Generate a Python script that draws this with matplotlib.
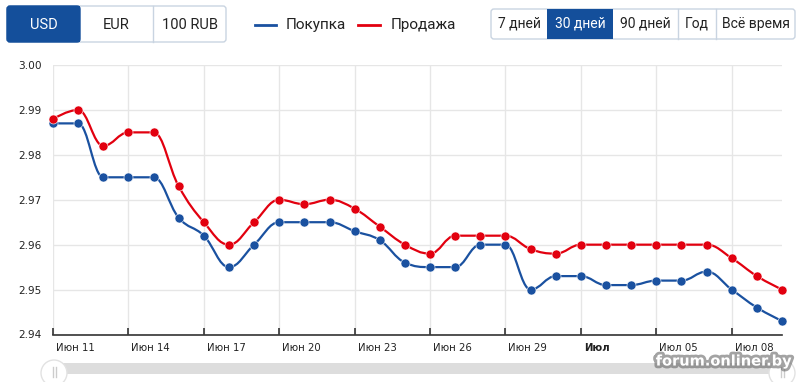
import matplotlib
matplotlib.use('Agg')
import matplotlib.pyplot as plt
import matplotlib.patheffects as pe
from matplotlib.path import Path
from matplotlib.patches import PathPatch, Rectangle, FancyBboxPatch, Circle
from matplotlib.transforms import ScaledTranslation

# data: Jun 11 .. Jul 10
buy = [2.987, 2.987, 2.975, 2.975, 2.975, 2.966, 2.962, 2.955, 2.960, 2.965,
       2.965, 2.965, 2.963, 2.961, 2.956, 2.955, 2.955, 2.960, 2.960, 2.950,
       2.953, 2.953, 2.951, 2.951, 2.952, 2.952, 2.954, 2.950, 2.946, 2.943]
sell = [2.988, 2.990, 2.982, 2.985, 2.985, 2.973, 2.965, 2.960, 2.965, 2.970,
        2.969, 2.970, 2.968, 2.964, 2.960, 2.958, 2.962, 2.962, 2.962, 2.959,
        2.958, 2.960, 2.960, 2.960, 2.960, 2.960, 2.960, 2.957, 2.953, 2.950]
days = list(range(len(buy)))
tick_pos = [0, 3, 6, 9, 12, 15, 18, 21, 24, 27]
tick_labels = ['Июн 11', 'Июн 14', 'Июн 17', 'Июн 20', 'Июн 23', 'Июн 26',
               'Июн 29', 'Июл', 'Июл 05', 'Июл 08']
y_ticks = [2.94, 2.95, 2.96, 2.97, 2.98, 2.99, 3.00]

BLUE = '#1a51a0'
RED = '#e2000f'
W, H = 800, 382


def spline(xs, ys, smoothing=1.5):
    # highcharts-like spline control points
    n = len(xs)
    denom = smoothing + 1
    lc = [(xs[i], ys[i]) for i in range(n)]
    rc = [(xs[i], ys[i]) for i in range(n)]
    for i in range(1, n - 1):
        x, y = xs[i], ys[i]
        lx, ly = xs[i - 1], ys[i - 1]
        nx, ny = xs[i + 1], ys[i + 1]
        lcx = (smoothing * x + lx) / denom
        lcy = (smoothing * y + ly) / denom
        rcx = (smoothing * x + nx) / denom
        rcy = (smoothing * y + ny) / denom
        if rcx != lcx:
            corr = (rcy - lcy) * (rcx - x) / (rcx - lcx) + y - rcy
            lcy += corr
            rcy += corr
        if lcy > ly and lcy > y:
            lcy = max(ly, y)
            rcy = 2 * y - lcy
        elif lcy < ly and lcy < y:
            lcy = min(ly, y)
            rcy = 2 * y - lcy
        if rcy > ny and rcy > y:
            rcy = max(ny, y)
            lcy = 2 * y - rcy
        elif rcy < ny and rcy < y:
            rcy = min(ny, y)
            lcy = 2 * y - rcy
        lc[i] = (lcx, lcy)
        rc[i] = (rcx, rcy)
    verts = [(xs[0], ys[0])]
    codes = [Path.MOVETO]
    for i in range(1, n):
        verts += [rc[i - 1], lc[i], (xs[i], ys[i])]
        codes += [Path.CURVE4] * 3
    return Path(verts, codes)


fig = plt.figure(figsize=(8, 3.82), dpi=100)

# overlay in pixel coords for buttons / legend / navigator
bg = fig.add_axes([0, 0, 1, 1])
bg.set_xlim(0, W)
bg.set_ylim(H, 0)
bg.axis('off')

# left button group
bg.add_patch(FancyBboxPatch((7, 6), 219, 36, boxstyle='round,pad=0,rounding_size=3',
                            fc='white', ec='#c9d4e1', lw=1))
bg.add_patch(FancyBboxPatch((7, 6), 73, 36, boxstyle='round,pad=0,rounding_size=3',
                            fc='#144f9b', ec='#144f9b', lw=1))
bg.add_patch(Rectangle((70, 6), 10, 36, fc='#144f9b', ec='none'))
bg.plot([153, 153], [6, 42], color='#c9d4e1', lw=1)
for cx, lab, col in [(43.5, 'USD', 'white'), (116.5, 'EUR', '#222'), (189.5, '100 RUB', '#222')]:
    bg.text(cx, 25, lab, ha='center', va='center', color=col, fontsize=10.5, family='Roboto')

# legend
bg.plot([255, 276], [25, 25], color=BLUE, lw=2)
bg.text(286, 25, 'Покупка', ha='left', va='center', fontsize=11, family='Roboto', color='#222')
bg.plot([358, 380], [25, 25], color=RED, lw=2)
bg.text(391, 25, 'Продажа', ha='left', va='center', fontsize=11, family='Roboto', color='#222')

# period buttons
bg.add_patch(FancyBboxPatch((491, 9), 304, 30, boxstyle='round,pad=0,rounding_size=3',
                            fc='white', ec='#c9d4e1', lw=1))
bg.add_patch(Rectangle((547, 9), 66, 30, fc='#144f9b', ec='none'))
for xd in [678, 716]:
    bg.plot([xd, xd], [9, 39], color='#c9d4e1', lw=1)
for cx, lab, col in [(519, '7 дней', '#222'), (580, '30 дней', 'white'), (645.5, '90 дней', '#222'),
                     (697, 'Год', '#222'), (755.5, 'Всё время', '#222')]:
    bg.text(cx, 24, lab, ha='center', va='center', color=col, fontsize=10, family='Roboto')

# navigator
bg.add_patch(Rectangle((53, 363), 729, 11, fc='#dddddd', ec='none'))
for hx in [54, 782]:
    bg.add_patch(Circle((hx, 373), 13, fc='white', ec='#e2e2e2', lw=1, zorder=3))
    bg.plot([hx - 1.5, hx - 1.5], [367, 377], color='#cccccc', lw=1, zorder=4)
    bg.plot([hx + 1.5, hx + 1.5], [367, 377], color='#cccccc', lw=1, zorder=4)

# main plot
ax = fig.add_axes([53 / W, 1 - 334.5 / H, (782 - 53) / W, (334.5 - 65) / H])
ax.patch.set_alpha(0)
ax.set_xlim(0, len(buy) - 1)
ax.set_ylim(2.94, 3.00)

for xs, ys, c in [(days, buy, BLUE), (days, sell, RED)]:
    ax.add_patch(PathPatch(spline(xs, ys), fc='none', ec=c, lw=1.6, clip_on=False, zorder=3))
    ax.plot(xs, ys, 'o', color=c, ms=6.5, mec='white', mew=0.4, clip_on=False, zorder=4)

ax.set_yticks(y_ticks)
ax.set_yticklabels(['%.2f' % v for v in y_ticks])
ax.set_xticks(tick_pos)
ax.set_xticklabels(tick_labels)
ax.grid(True, color='#e6e6e6', lw=1)
ax.set_axisbelow(True)
for s in ['left', 'right', 'top']:
    ax.spines[s].set_visible(False)
ax.spines['bottom'].set_color('#333333')
ax.spines['bottom'].set_linewidth(1.2)
ax.tick_params(axis='y', length=0, pad=8, labelsize=7.6, labelcolor='#222')
ax.tick_params(axis='x', direction='in', length=5, width=1.2, color='#333333',
               pad=6, labelsize=7.3, labelcolor='#222')
off = ScaledTranslation(3 / 100, 0, fig.dpi_scale_trans)
for lab in ax.get_xticklabels():
    lab.set_horizontalalignment('left')
    lab.set_transform(lab.get_transform() + off)
    if lab.get_text() == 'Июл':
        lab.set_fontweight('bold')

# watermark
fig.text(724 / W, 1 - 361 / H, 'forum.onliner.by', ha='center', va='center', color='white',
         fontsize=10.5, fontweight='bold', family='DejaVu Sans',
         path_effects=[pe.withStroke(linewidth=4, foreground='#666666', alpha=0.6)])

fig.savefig('out.png', dpi=100)
